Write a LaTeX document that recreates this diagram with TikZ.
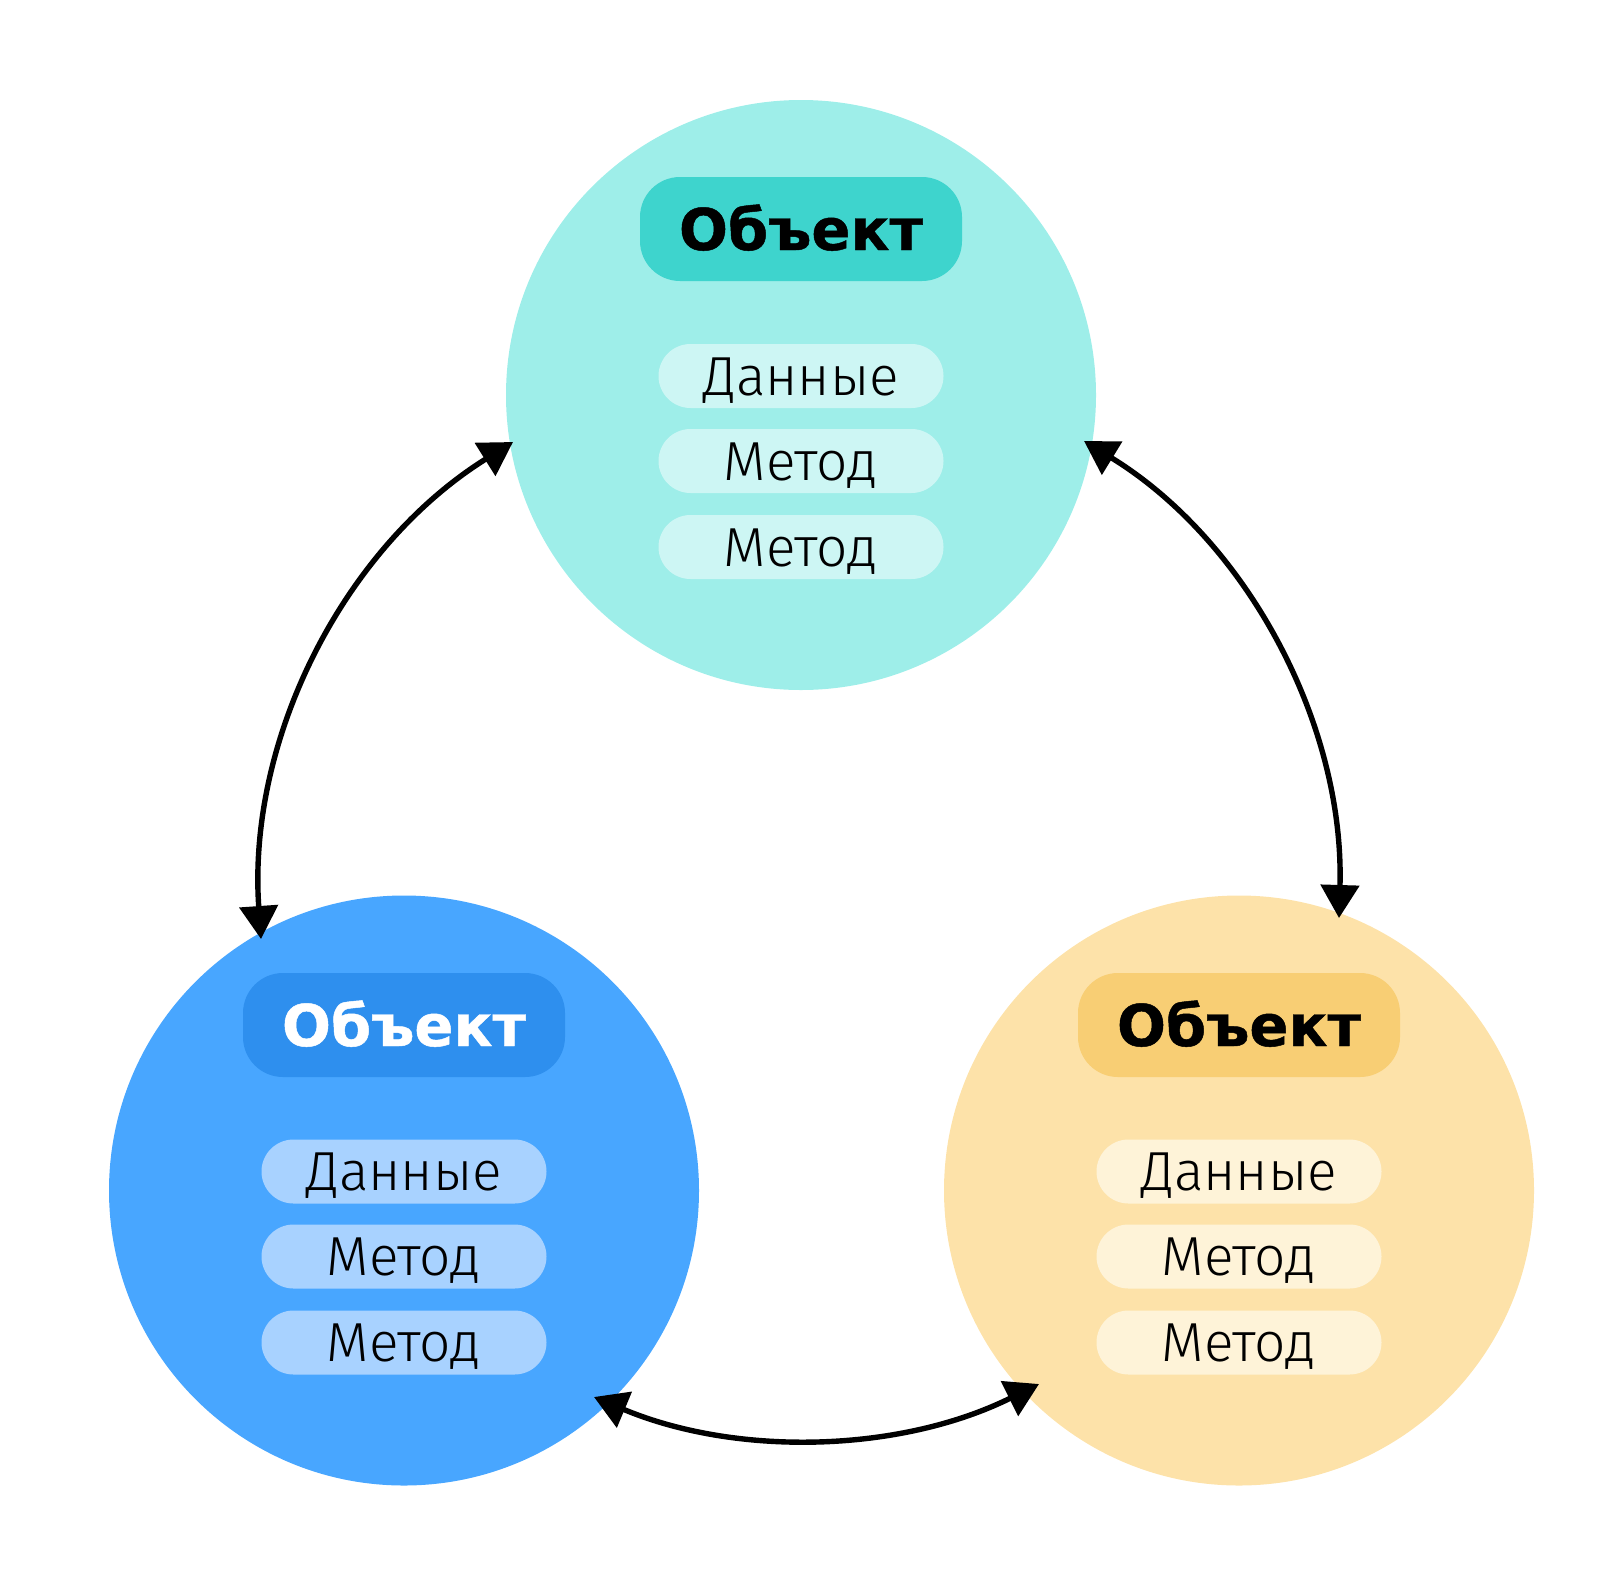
\documentclass[tikz,border=0pt]{standalone}
\usepackage{fontspec}
\setmainfont{Fira Sans}
\newfontfamily\lightfont{Fira Sans Light}
\newfontfamily\headfont{DejaVu Sans}[BoldFeatures={FakeBold=0.8}]
\usetikzlibrary{arrows.meta}

\definecolor{aquaball}{HTML}{9EEEE9}
\definecolor{aquahead}{HTML}{3ED4CD}
\definecolor{aquafield}{HTML}{CDF6F4}
\definecolor{blueball}{HTML}{48A6FF}
\definecolor{bluehead}{HTML}{2E8FEE}
\definecolor{bluefield}{HTML}{A8D2FF}
\definecolor{sandball}{HTML}{FDE2A9}
\definecolor{sandhead}{HTML}{F8CE74}
\definecolor{sandfield}{HTML}{FEF3D8}

\begin{document}
\begin{tikzpicture}[x = 0.5pt, y = 0.5pt,
        every node/.style={inner sep=0pt, outer sep=0pt}
]
\tikzstyle{ball}= [circle, minimum size = 295pt]
\tikzstyle{head}= [rounded corners=20pt, minimum width=161pt, minimum height=52pt,
    text height=21pt, text depth=0pt, font=\fontsize{28.8}{28.8}\selectfont\headfont\bfseries]
\tikzstyle{field}= [rounded corners=16pt, minimum width=142.5pt, minimum height=32pt,
    text height=19pt, text depth=0pt, font=\fontsize{27.5}{27.5}\selectfont\lightfont]
\tikzstyle{link}= [{Triangle[length=16.5pt,width=19pt]}-{Triangle[length=16.5pt,width=19pt]}, line width=2.7pt]

    \useasboundingbox (0,0) rectangle (1600,-1590);

    % top object
    \node[ball, fill=aquaball] (top) at (801,-395) {};
    \node[head, fill=aquahead] (top-head) at (801,-229) {Объект};
    \node[field, fill=aquafield] (top-data) at (801,-376) {Данные};
    \node[field, fill=aquafield] (top-m1) at (801,-461) {Метод};
    \node[field, fill=aquafield] (top-m2) at (801,-547) {Метод};

    % left object
    \node[ball, fill=blueball] (left) at (404,-1190.5) {};
    \node[head, fill=bluehead, text=white] (left-head) at (404,-1025) {Объект};
    \node[field, fill=bluefield] (left-data) at (404,-1171.5) {Данные};
    \node[field, fill=bluefield] (left-m1) at (404,-1256.5) {Метод};
    \node[field, fill=bluefield] (left-m2) at (404,-1342.5) {Метод};

    % right object
    \node[ball, fill=sandball] (right) at (1239,-1190.5) {};
    \node[head, fill=sandhead] (right-head) at (1239,-1025) {Объект};
    \node[field, fill=sandfield] (right-data) at (1239,-1171.5) {Данные};
    \node[field, fill=sandfield] (right-m1) at (1239,-1256.5) {Метод};
    \node[field, fill=sandfield] (right-m2) at (1239,-1342.5) {Метод};

    % arrow ends
    \coordinate (top-w) at (513,-442);
    \coordinate (top-e) at (1084,-441);
    \coordinate (left-n) at (261,-939);
    \coordinate (left-e) at (594,-1397);
    \coordinate (right-n) at (1339,-918);
    \coordinate (right-w) at (1039,-1384);

    \draw[link] (top-w) to [out=212, in=94, looseness=0.92] (left-n);
    \draw[link] (top-e) to [out=-31.5, in=88.3, looseness=0.91] (right-n);
    \draw[link] (left-e) to [out=-22.7, in=206.3, looseness=0.89] (right-w);

\end{tikzpicture}
\end{document}
